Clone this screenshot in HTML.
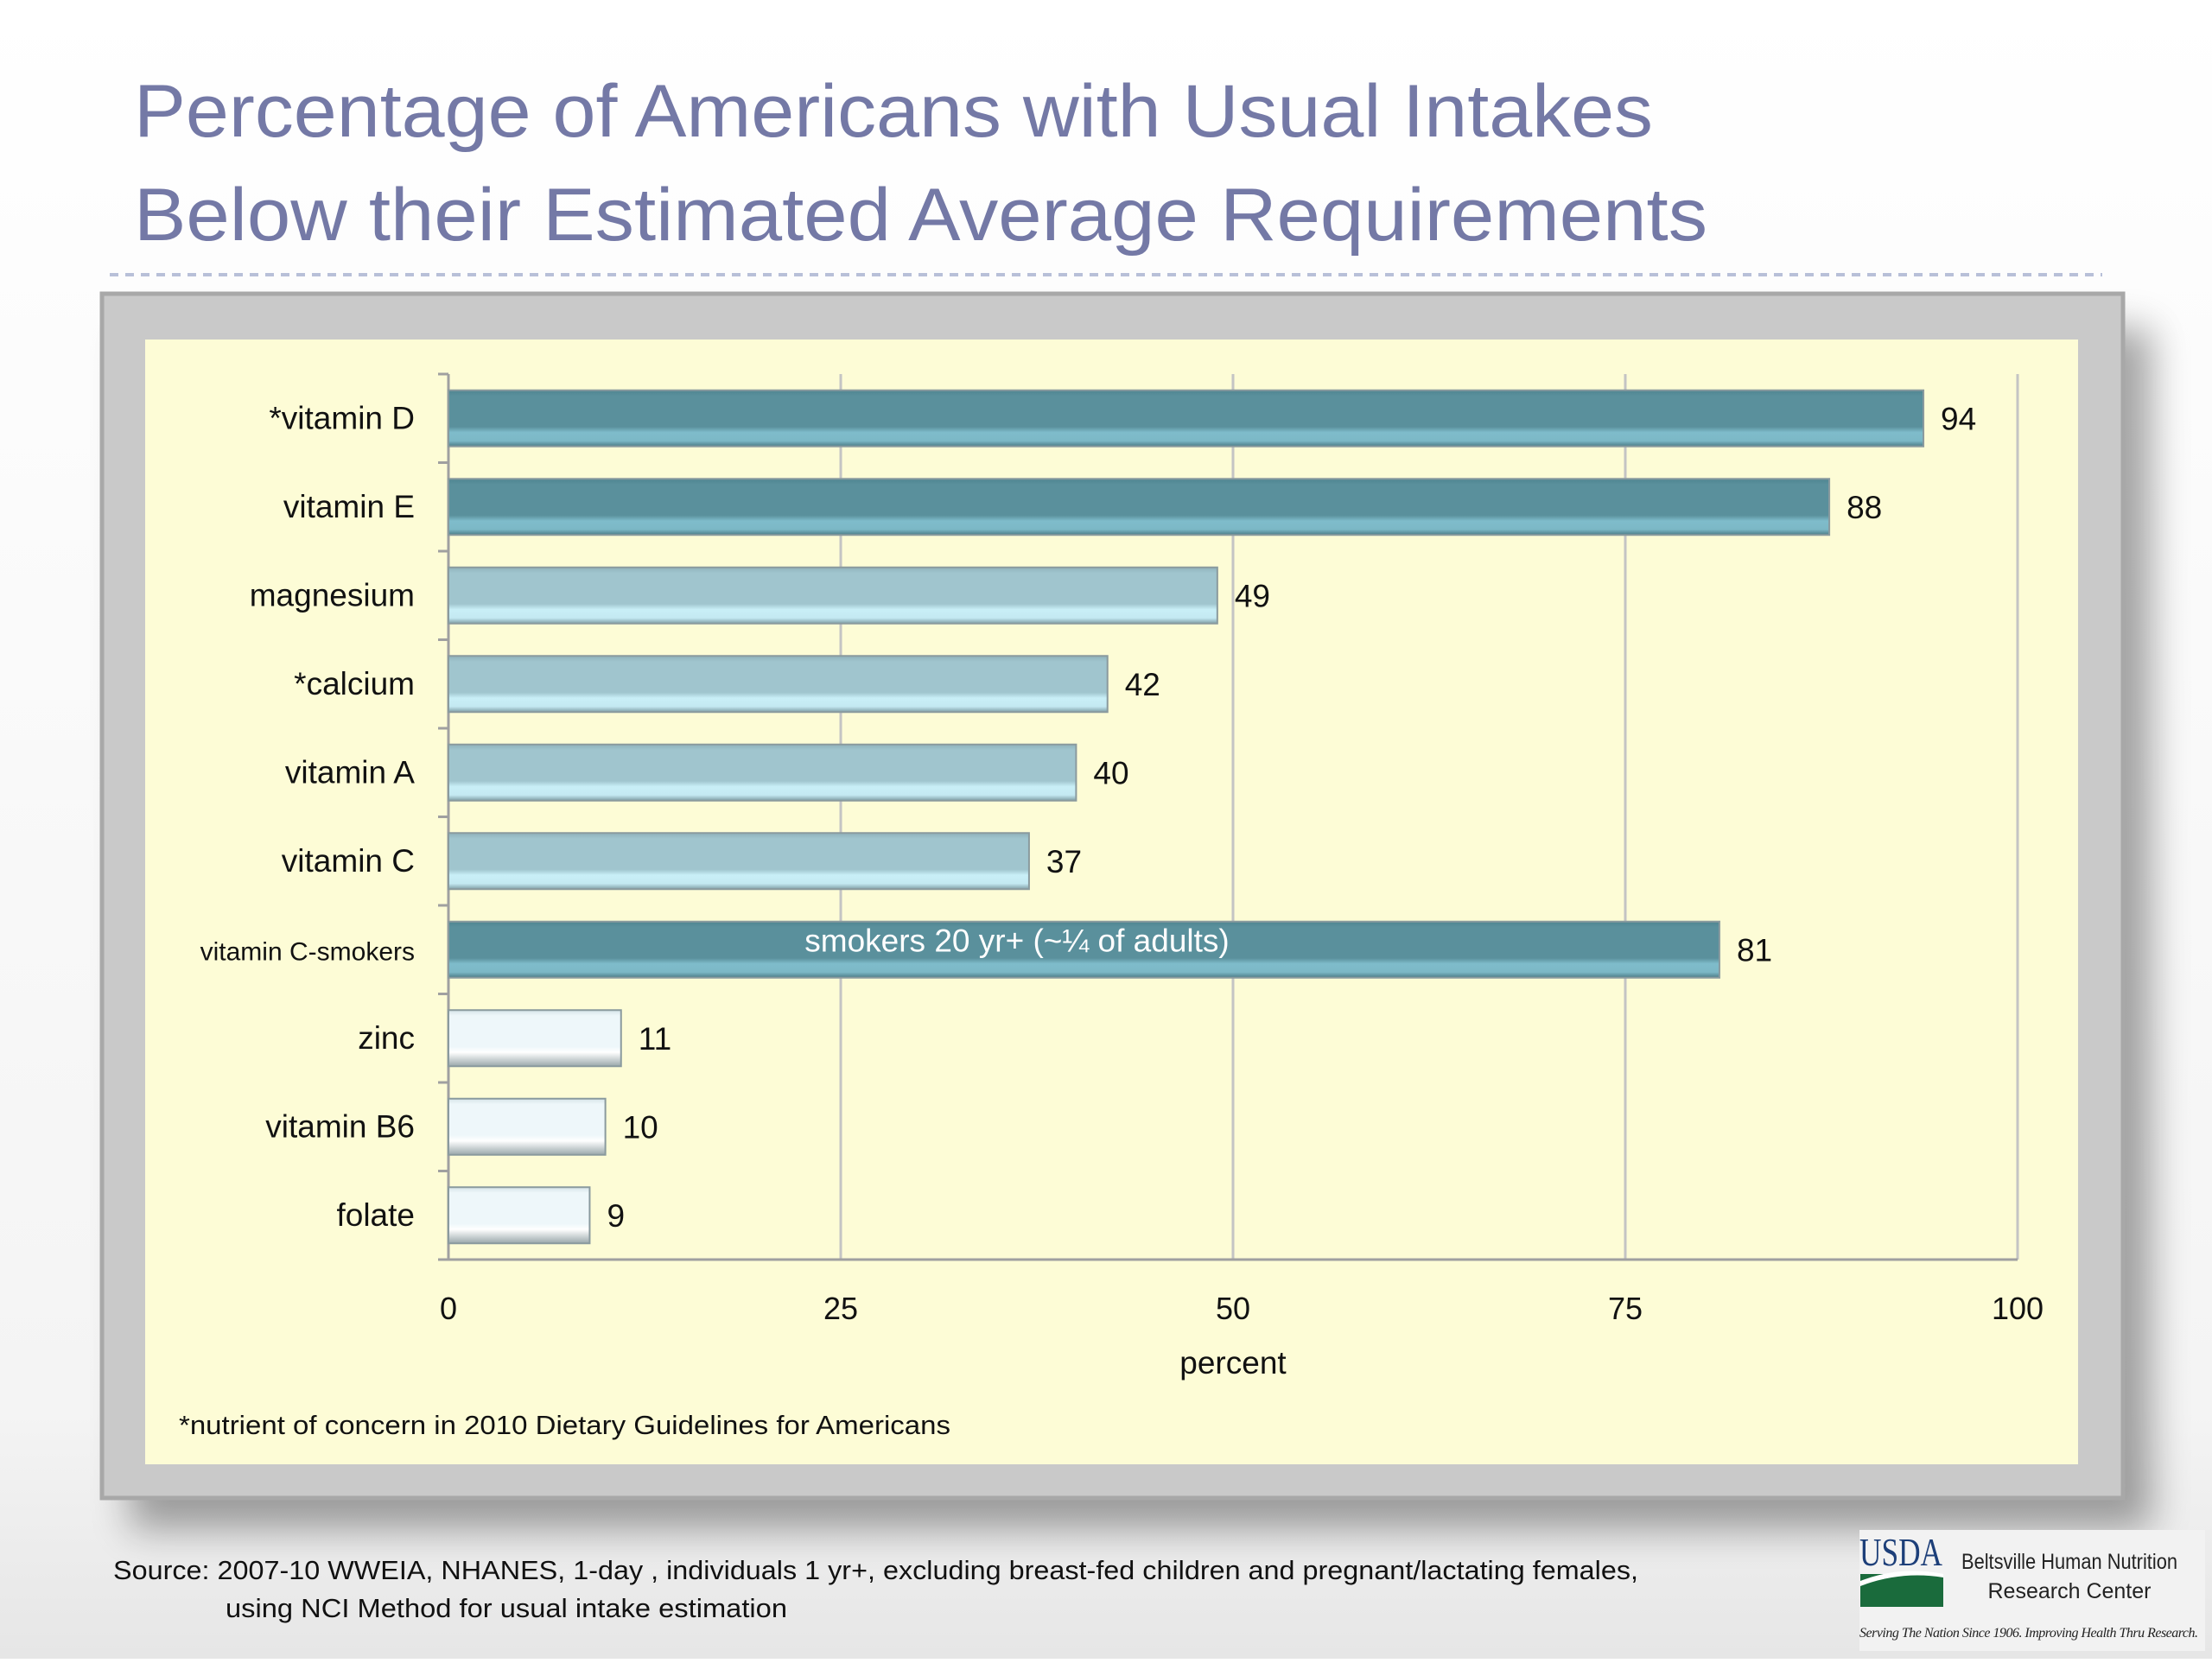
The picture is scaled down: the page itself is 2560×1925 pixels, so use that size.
<!DOCTYPE html>
<html><head><meta charset="utf-8"><style>
html,body{margin:0;padding:0;background:#fff;}
body{width:2560px;height:1920px;overflow:hidden;font-family:"Liberation Sans",sans-serif;}
</style></head><body>
<svg width="2560" height="1920" viewBox="0 0 2560 1920" xmlns="http://www.w3.org/2000/svg">
<defs>
<linearGradient id="bg" x1="0" y1="0" x2="0" y2="1"><stop offset="0" stop-color="#ffffff"/><stop offset="0.85" stop-color="#f4f4f4"/><stop offset="1" stop-color="#e6e6e6"/></linearGradient>
<linearGradient id="dark" x1="0" y1="0" x2="0" y2="1"><stop offset="0" stop-color="#4f8591"/><stop offset="0.1" stop-color="#5a909c"/><stop offset="0.65" stop-color="#5a909c"/><stop offset="0.75" stop-color="#7fbccb"/><stop offset="0.9" stop-color="#7cb8c6"/><stop offset="1" stop-color="#4a7b86"/></linearGradient>
<linearGradient id="mid" x1="0" y1="0" x2="0" y2="1"><stop offset="0" stop-color="#8fb2bb"/><stop offset="0.1" stop-color="#a0c5ce"/><stop offset="0.65" stop-color="#a0c5ce"/><stop offset="0.75" stop-color="#c9eff7"/><stop offset="0.9" stop-color="#c4e9f2"/><stop offset="1" stop-color="#7f9ea6"/></linearGradient>
<linearGradient id="light" x1="0" y1="0" x2="0" y2="1"><stop offset="0" stop-color="#d6e4e8"/><stop offset="0.1" stop-color="#eef7fa"/><stop offset="0.65" stop-color="#eef7fa"/><stop offset="0.75" stop-color="#ffffff"/><stop offset="1" stop-color="#9aa8ab"/></linearGradient>
<filter id="sh" x="-10%" y="-10%" width="120%" height="125%"><feGaussianBlur stdDeviation="22"/></filter>
</defs>
<rect width="2560" height="1920" fill="url(#bg)"/>
<text x="155" y="158" font-size="86" fill="#7479a6" textLength="1758" lengthAdjust="spacingAndGlyphs">Percentage of Americans with Usual Intakes</text>
<text x="155" y="278" font-size="86" fill="#7479a6" textLength="1821" lengthAdjust="spacingAndGlyphs">Below their Estimated Average Requirements</text>
<line x1="127" y1="318" x2="2433" y2="318" stroke="#b8c0d8" stroke-width="4" stroke-dasharray="10,8"/>
<rect x="150" y="380" width="2340" height="1390" fill="#000" opacity="0.35" filter="url(#sh)"/>
<rect x="118" y="340" width="2339" height="1394" fill="#c9c9c9" stroke="#a8a8a8" stroke-width="5"/>
<rect x="168" y="393" width="2237" height="1302" fill="#fdfcd6"/>
<g id="chart"></g>
<text x="207" y="1660" font-size="31" fill="#111" textLength="893" lengthAdjust="spacingAndGlyphs">*nutrient of concern in 2010 Dietary Guidelines for Americans</text>
<text x="131" y="1828" font-size="31" fill="#111" textLength="1765" lengthAdjust="spacingAndGlyphs">Source:  2007-10 WWEIA, NHANES, 1-day , individuals 1 yr+, excluding breast-fed children and pregnant/lactating females,</text>
<text x="261" y="1872" font-size="31" fill="#111" textLength="650" lengthAdjust="spacingAndGlyphs">using NCI Method for usual intake estimation</text>
<g>
<rect x="2152" y="1771" width="400" height="140" fill="#f2f2f2"/>
<text x="2152" y="1812" font-size="46" fill="#1d3f79" font-family="Liberation Serif, serif" textLength="96" lengthAdjust="spacingAndGlyphs">USDA</text>
<rect x="2153" y="1822" width="96" height="38" fill="#1a6b3c"/>
<path d="M2153 1830 Q2200 1812 2249 1822 L2249 1826 Q2200 1818 2153 1836Z" fill="#fff"/>
<text x="2395" y="1816" font-size="25" fill="#222" text-anchor="middle" textLength="250" lengthAdjust="spacingAndGlyphs">Beltsville Human Nutrition</text>
<text x="2395" y="1850" font-size="25" fill="#222" text-anchor="middle">Research Center</text>
<text x="2152" y="1895" font-size="16" font-style="italic" fill="#222" font-family="Liberation Serif, serif" textLength="392">Serving The Nation Since 1906. Improving Health Thru Research.</text>
</g>
</svg>
<script>
const categories = ["*vitamin D","vitamin E","magnesium","*calcium","vitamin A","vitamin C","vitamin C-smokers","zinc","vitamin B6","folate"];
const values = [94,88,49,42,40,37,81,11,10,9];
const shades = ["dark","dark","mid","mid","mid","mid","dark","light","light","light"];
const xTicks = [0,25,50,75,100];
const NS="http://www.w3.org/2000/svg";
const g=document.getElementById('chart');
const X0=519,X1=2335,Y0=433,Y1=1458;
const xs=v=>X0+(X1-X0)*v/100;
const band=(Y1-Y0)/categories.length;
const bh=65;
function mk(t,a,txt){const e=document.createElementNS(NS,t);for(const k in a)e.setAttribute(k,a[k]);if(txt!==undefined)e.textContent=txt;g.appendChild(e);return e;}
xTicks.forEach((t,i)=>{
 if(i>0){const l=mk('line',{x1:xs(t),x2:xs(t),y1:Y0,y2:Y1,stroke:'#c4c4c4','stroke-width':3});
 
 }
 const tx=mk('text',{x:xs(t),y:1527,'font-size':36,'text-anchor':'middle',fill:'#111'},String(t));
 
 
});
const ax=mk('line',{x1:X0,x2:X1,y1:Y1,y2:Y1,stroke:'#a0a0a0','stroke-width':3});


const ay=mk('line',{x1:X0,x2:X0,y1:Y0,y2:Y1,stroke:'#a0a0a0','stroke-width':3});


for(let i=0;i<=categories.length;i++){const tk=mk('line',{x1:X0-12,x2:X0,y1:Y0+i*band,y2:Y0+i*band,stroke:'#a0a0a0','stroke-width':3});
 
 }
categories.forEach((c,i)=>{
 const cy=Y0+band*(i+0.5);
 const r=mk('rect',{x:X0,y:cy-bh/2,width:xs(values[i])-X0,height:bh,fill:'url(#'+shades[i]+')',stroke:'#8a9a9e','stroke-width':2});
 
 
 const lb=mk('text',{x:480,y:cy+12,'font-size':c.length>12?30:37,'text-anchor':'end',fill:'#111'},c);
 
 
 const vl=mk('text',{x:xs(values[i])+20,y:cy+13,'font-size':37,fill:'#111'},String(values[i]));
 
 
});
const ci=categories.indexOf("vitamin C-smokers");
const ann=mk('text',{x:1177,y:Y0+band*(ci+0.5)+2,'font-size':37,'text-anchor':'middle',fill:'#fff'},"smokers 20 yr+ (~¼ of adults)");


const xt=mk('text',{x:xs(50),y:1590,'font-size':37,'text-anchor':'middle',fill:'#111'},"percent");


</script>
</body></html>
